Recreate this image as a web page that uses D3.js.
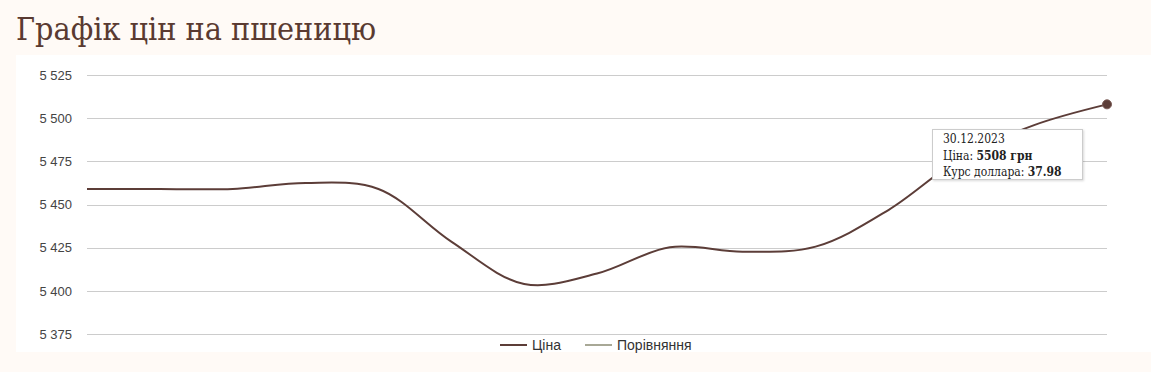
<!DOCTYPE html>
<html>
<meta charset="utf-8">
<style>
body {
  margin: 0;
  background: #fffaf6;
  font: 13px "Liberation Sans", Arial, sans-serif;
}
.grid line {
  stroke: #cccccc;
  shape-rendering: crispEdges;
}
.axis text {
  fill: #444;
  font-size: 13px;
}
.serif {
  font-family: "DejaVu Serif Condensed", "DejaVu Serif", serif;
}
</style>
<body>
<script src="https://cdn.jsdelivr.net/npm/d3@7"></script>
<script>
// price of wheat, UAH per tonne
var prices = [5459, 5459, 5459, 5462.5, 5459, 5428.5, 5404, 5410, 5425.2, 5422.7, 5425.6, 5446.8, 5477, 5496, 5508];
var yTicks = [5375, 5400, 5425, 5450, 5475, 5500, 5525];
var legendNames = ["Ціна", "Порівняння"];
var legendColors = ["#5c3d38", "#a8a896"];
var tipDate = "30.12.2023";
var tipRate = "37.98";

var W = 1151, H = 372;
var margin = {top: 75, right: 44, bottom: 38, left: 87};

var svg = d3.select("body").append("svg")
    .attr("width", W)
    .attr("height", H);

// white chart panel
svg.append("rect")
    .attr("x", 16).attr("y", 55)
    .attr("width", W - 16).attr("height", 297)
    .style("fill", "#fff");

// title
svg.append("text")
    .attr("class", "serif title")
    .attr("x", 16)
    .attr("y", 40)
    .style("font-size", "32px")
    .style("fill", "#5a3a31")
    .text("Графік цін на пшеницю");

var x = d3.scaleLinear().domain([0, prices.length - 1]).range([margin.left, W - margin.right]);
var y = d3.scaleLinear().domain([5375, 5525]).range([H - margin.bottom, margin.top]);

var fmt = function(d) { return d3.format(",")(d).replace(",", " "); };

// gridlines
svg.append("g")
    .attr("class", "grid")
    .selectAll("line")
    .data(yTicks)
  .enter().append("line")
    .attr("x1", x.range()[0])
    .attr("x2", x.range()[1])
    .attr("y1", function(d) { return Math.round(y(d)) + 0.5; })
    .attr("y2", function(d) { return Math.round(y(d)) + 0.5; });

// y-axis labels
var yAxis = d3.axisLeft(y).tickValues(yTicks).tickFormat(fmt).tickSize(0).tickPadding(0);
svg.append("g")
    .attr("class", "axis")
    .attr("transform", "translate(72,0)")
    .call(yAxis)
    .call(function(g) { g.select(".domain").remove(); });

// price line
var line = d3.line()
    .x(function(d, i) { return x(i); })
    .y(function(d) { return y(d); })
    .curve(d3.curveCatmullRom.alpha(0.5));

svg.append("path")
    .datum(prices)
    .attr("d", line)
    .style("fill", "none")
    .style("stroke", legendColors[0])
    .style("stroke-width", 2);

var last = prices.length - 1;
svg.append("circle")
    .attr("cx", x(last))
    .attr("cy", y(prices[last]))
    .attr("r", 4.5)
    .style("fill", legendColors[0])
    .style("stroke", "#7a5a55")
    .style("stroke-width", 1);

// legend
var legendX = [500, 585];
var legend = svg.selectAll(".legend")
    .data(legendNames)
  .enter().append("g")
    .attr("class", "legend")
    .attr("transform", function(d, i) { return "translate(" + legendX[i] + ",345)"; });

legend.append("line")
    .attr("x1", 0).attr("x2", 27)
    .style("stroke", function(d, i) { return legendColors[i]; })
    .style("stroke-width", 2);

legend.append("text")
    .attr("x", 32)
    .attr("dy", "0.35em")
    .style("fill", "#333")
    .style("font-size", "14px")
    .text(function(d) { return d; });

// tooltip for the last point
var tip = svg.append("g").attr("transform", "translate(932,129)");
tip.append("rect")
    .attr("x", 0.5).attr("y", 0.5)
    .attr("width", 150).attr("height", 50)
    .style("fill", "#fff")
    .style("stroke", "#cccccc")
    .style("filter", "drop-shadow(1px 1px 1px rgba(0,0,0,0.15))");

var tipText = tip.append("text")
    .attr("class", "serif")
    .style("font-size", "12px")
    .style("fill", "#222");

tipText.append("tspan").attr("x", 11).attr("y", 14).text(tipDate);
var l2 = tipText.append("tspan").attr("x", 11).attr("y", 31);
l2.append("tspan").text("Ціна: ");
l2.append("tspan").style("font-weight", "bold").text(prices[last] + " грн");
var l3 = tipText.append("tspan").attr("x", 11).attr("y", 47);
l3.append("tspan").text("Курс доллара: ");
l3.append("tspan").style("font-weight", "bold").text(tipRate);
</script>
</body>
</html>
